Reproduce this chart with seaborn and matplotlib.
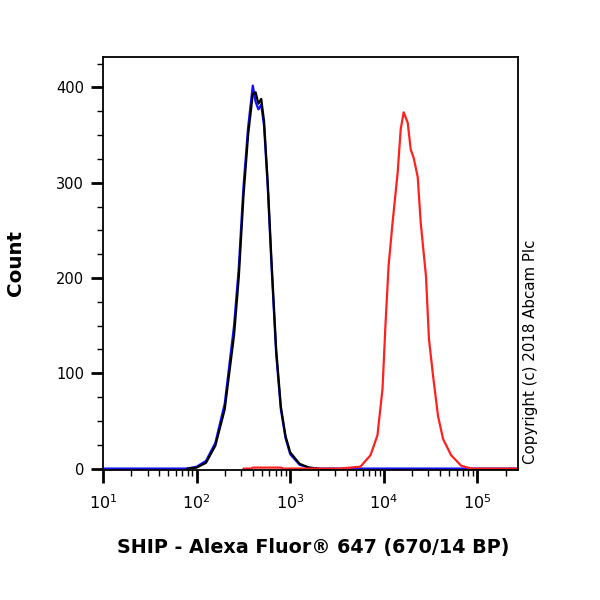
import numpy as np
import pandas as pd
import matplotlib
matplotlib.use("Agg")
import matplotlib.pyplot as plt
import matplotlib.ticker as mticker
import seaborn as sns

# intensity positions are in decades (log10 of fluorescence)
black_log = [1.9, 2.0, 2.1, 2.2, 2.3, 2.4, 2.45, 2.5, 2.55, 2.6, 2.63, 2.66, 2.69,
             2.72, 2.76, 2.8, 2.85, 2.9, 2.95, 3.0, 3.1, 3.2, 3.3]
black_count = [0, 1, 6, 24, 62, 140, 200, 285, 350, 393, 395, 383, 388,
               365, 300, 218, 125, 65, 34, 17, 5, 1, 0]

blue_log = [1.0, 1.9, 2.0, 2.1, 2.2, 2.3, 2.4, 2.45, 2.5, 2.55, 2.6, 2.63, 2.66, 2.69,
            2.72, 2.76, 2.8, 2.85, 2.9, 2.95, 3.0, 3.1, 3.2, 3.3, 5.43]
blue_count = [0, 0, 2, 8, 27, 68, 150, 210, 295, 358, 402, 385, 377, 382,
              360, 295, 213, 120, 62, 32, 15, 4, 1, 0, 0]

red_log = [2.5, 2.58, 2.6, 2.9, 2.93, 3.535, 3.75, 3.857, 3.932, 3.986, 4.019, 4.051,
           4.094, 4.148, 4.18, 4.212, 4.255, 4.287, 4.319, 4.362, 4.394, 4.45,
           4.482, 4.525, 4.579, 4.633, 4.719, 4.826, 4.933, 5.43]
red_count = [0, 0, 1, 1, 0, 0, 2, 14, 35, 84, 154, 213,
             259, 311, 356, 374, 363, 335, 326, 306, 258, 202,
             136, 98, 55, 31, 14, 3, 0, 0]

sns.set_style("ticks")
plt.rcParams['font.family'] = ['DejaVu Sans']
plt.rcParams['text.color'] = 'black'
plt.rcParams['axes.labelcolor'] = 'black'

fig = plt.figure(figsize=(6, 6), dpi=100)
ax = fig.add_axes([103 / 600, 1 - 470 / 600, 414.7 / 600, 413 / 600])

curves = [
    (blue_log, blue_count, "#1010ff"),
    (black_log, black_count, "#000000"),
    (red_log, red_count, "#ff2020"),
]
for xs, ys, col in curves:
    df = pd.DataFrame({"x": 10 ** np.array(xs), "y": ys})
    sns.lineplot(data=df, x="x", y="y", color=col, linewidth=1.6, ax=ax,
                 sort=False, estimator=None)

ax.set_xscale("log")
ax.set_xlim(10, 10 ** 5.43)
ax.set_ylim(-1.5, 432)

ax.xaxis.set_major_locator(mticker.LogLocator(base=10, numticks=10))
ax.xaxis.set_minor_locator(mticker.LogLocator(base=10, subs=np.arange(2, 10), numticks=20))
ax.xaxis.set_minor_formatter(mticker.NullFormatter())
ax.yaxis.set_major_locator(mticker.MultipleLocator(100))
ax.yaxis.set_minor_locator(mticker.MultipleLocator(25))

for s in ax.spines.values():
    s.set_linewidth(1.3)
    s.set_color("black")

ax.tick_params(axis="x", which="major", direction="out", length=9, width=2,
               pad=8, labelsize=11.5, colors="black")
ax.tick_params(axis="x", which="minor", direction="out", length=4.5, width=1, colors="black")
ax.tick_params(axis="y", which="major", direction="out", length=8.5, width=2,
               pad=5, labelsize=10.5, colors="black")
ax.tick_params(axis="y", which="minor", direction="out", length=4, width=1, colors="black")

ax.set_xlabel("SHIP - Alexa Fluor® 647 (670/14 BP)", fontsize=13.8, fontweight="bold")
ax.set_ylabel("Count", fontsize=14.3, fontweight="bold")
ax.xaxis.set_label_coords(0.508, -0.165)
ax.yaxis.set_label_coords(-0.188, 0.5)

fig.text(530 / 600, 1 - 352 / 600, "Copyright (c) 2018 Abcam Plc", rotation=90,
         fontsize=10.8, ha="center", va="center", color="black")

fig.savefig("out.png", dpi=100)
